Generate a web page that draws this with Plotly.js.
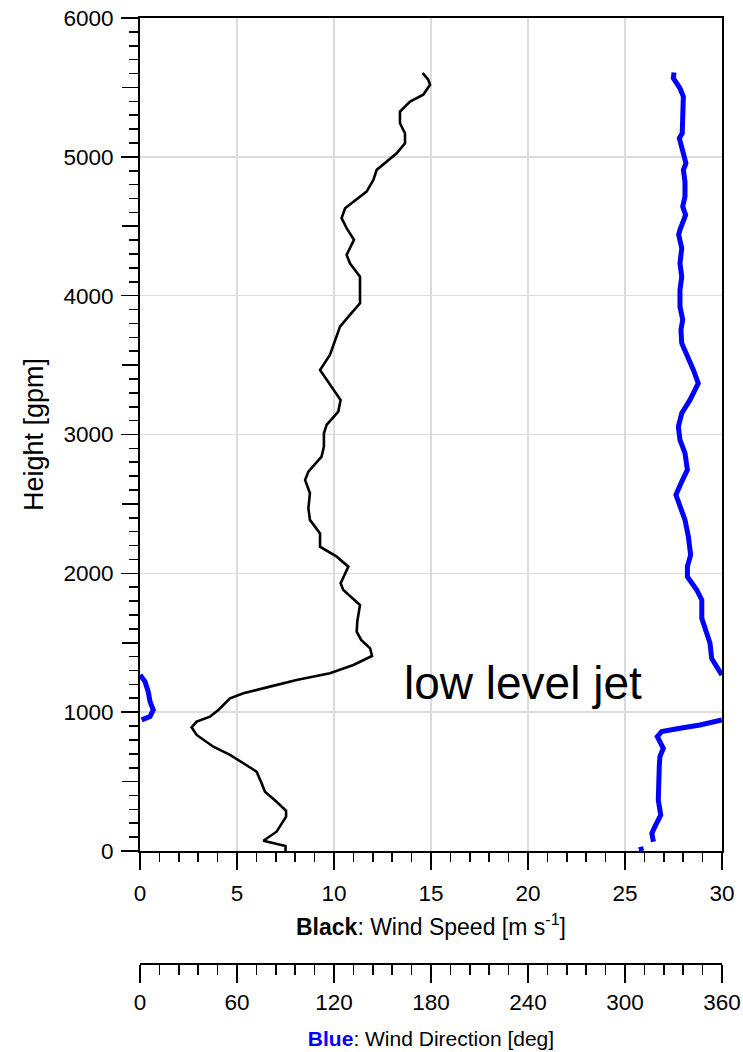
<!DOCTYPE html>
<html>
<head>
<meta charset="utf-8">
<script src="https://cdn.plot.ly/plotly-3.0.1.min.js"></script>
<style>html,body{margin:0;padding:0;background:#fff;}</style>
</head>
<body>
<div id="chart" style="width:743px;height:1052px;"></div>
<script>
// Wind speed profile (black), height [gpm] vs speed [m/s]
const speedHeight = [0,36,74,139,247,290,355,427,488,571,632,692,751,836,891,932,968,1016,1100,1136,1184,1232,1280,1340,1405,1460,1520,1580,1652,1772,1880,1928,2048,2120,2192,2288,2385,2469,2577,2673,2733,2841,2913,3009,3069,3165,3249,3357,3465,3573,3693,3777,3862,3945,4137,4233,4294,4402,4486,4558,4630,4750,4834,4906,5025,5097,5170,5242,5326,5398,5447,5519,5555,5603];
const windSpeed = [7.5,7.5,6.36,7.04,7.53,7.53,7.04,6.44,6.27,6.01,5.33,4.64,3.78,2.92,2.66,2.92,3.61,4.04,4.64,5.33,6.70,8.07,9.79,11.0,11.96,11.86,11.4,11.17,11.2,11.34,10.48,10.34,10.74,10.14,9.28,9.28,8.76,8.68,8.76,8.51,8.68,9.36,9.48,9.48,9.62,10.22,10.34,9.79,9.28,9.79,10.1,10.31,10.82,11.34,11.34,10.82,10.65,11.03,10.65,10.39,10.57,11.68,12.03,12.2,13.23,13.66,13.66,13.4,13.4,13.92,14.6,14.95,14.86,14.57];

// Wind direction profile (blue), degrees (wraps through 360/0); null = missing data
const dirHeight = [0,31,null,67,127,175,259,367,488,608,680,740,824,860,884,908,944,944,968,1016,1076,1148,1220,1268,1268,1327,1387,1496,1592,1676,1808,1880,1976,2048,2133,2264,2385,2481,2565,2661,2745,2865,2961,3057,3153,3249,3369,3465,3561,3658,3754,3826,3921,4042,4137,4233,4342,4438,4474,4582,4642,4714,4822,4906,4953,5025,5134,5170,5362,5434,5494,5566,5607];
const windDir = [310.3,309.7,null,317.6,316.6,318.5,322.1,320.6,320.6,321.2,321.6,323.7,320.0,322.7,334.0,346.4,359.9,1.0,6.2,8.2,6.2,5.1,3.1,0.1,359.9,356.7,353.6,352.6,350.1,347.5,347.5,344.4,338.6,338.6,340.6,339.2,337.1,334.0,331.5,335.1,338.6,337.1,334.0,333.0,335.1,340.2,345.3,342.3,338.6,335.1,334.6,335.7,334.0,334.0,335.1,334.0,335.1,333.2,334.0,337.5,335.7,337.1,337.1,336.1,337.7,336.1,333.6,335.4,335.4,336.1,334.0,329.9,330.3];

const heightTickVals = [0,1000,2000,3000,4000,5000,6000];
const heightTickText = ['0','1000','2000','3000','4000','5000','6000'];
const heightMidTicks = [500,1500,2500,3500,4500,5500];

// break the direction line where it wraps around 360/0
const dx = [], dy = [];
for (let i = 0; i < windDir.length; i++) {
  if (i > 0 && windDir[i] !== null && windDir[i-1] !== null && Math.abs(windDir[i] - windDir[i-1]) > 180) {
    dx.push(null); dy.push(null);
  }
  dx.push(windDir[i]); dy.push(dirHeight[i]);
}

const FONT = 'Liberation Sans, Arial, sans-serif';

const traces = [
  // carrier for the half-step tick axis (draws nothing)
  {x: [null], y: [null], xaxis: 'x', yaxis: 'y2', mode: 'lines', hoverinfo: 'skip', showlegend: false},
  {x: windSpeed, y: speedHeight, xaxis: 'x', yaxis: 'y', mode: 'lines',
   line: {color: '#000000', width: 2.6}, hoverinfo: 'skip'},
  {x: dx, y: dy, xaxis: 'x2', yaxis: 'y', mode: 'lines', connectgaps: false,
   line: {color: '#0000ff', width: 5}, hoverinfo: 'skip'}
];

const yDomain = [(964 - 851) / (964 - 18), 1];

const layout = {
  width: 743, height: 1052,
  margin: {l: 140, r: 21, t: 18, b: 88},
  paper_bgcolor: '#ffffff', plot_bgcolor: '#ffffff',
  showlegend: false,
  font: {family: FONT, color: '#000', size: 22},
  xaxis: {
    anchor: 'y', range: [0, 30], tickmode: 'linear', tick0: 0, dtick: 5,
    ticks: 'outside', ticklen: 17, tickwidth: 1.6, tickcolor: '#000',
    showline: true, linecolor: '#000', linewidth: 2, mirror: true,
    showgrid: true, gridcolor: '#dcdcdc', gridwidth: 1.5, zeroline: false,
    tickfont: {family: FONT, size: 22.5, color: '#000'}, ticklabelstandoff: 4,
    minor: {tickmode: 'linear', tick0: 0, dtick: 1, ticks: 'outside', ticklen: 9, tickwidth: 1.6, tickcolor: '#000', showgrid: false},
    title: {text: '<b>Black</b>: Wind Speed [m s<sup>-1</sup>]', font: {family: FONT, size: 23, color: '#000'}, standoff: 14},
    automargin: false, fixedrange: true
  },
  xaxis2: {
    overlaying: 'x', anchor: 'free', position: 0, side: 'bottom',
    range: [0, 360], tickmode: 'linear', tick0: 0, dtick: 60,
    ticks: 'outside', ticklen: 18, tickwidth: 1.6, tickcolor: '#000',
    showline: true, linecolor: '#000', linewidth: 2,
    showgrid: false, zeroline: false,
    tickfont: {family: FONT, size: 22.5, color: '#000'},
    minor: {tickmode: 'linear', tick0: 0, dtick: 12, ticks: 'outside', ticklen: 10, tickwidth: 1.6, tickcolor: '#000', showgrid: false},
    title: {text: '<b><span style="color:#0000ff">Blue</span></b>: Wind Direction [deg]', font: {family: FONT, size: 21, color: '#000'}, standoff: 16},
    automargin: false, fixedrange: true
  },
  yaxis: {
    domain: yDomain, anchor: 'x', range: [0, 6000],
    tickmode: 'array', tickvals: heightTickVals, ticktext: heightTickText,
    ticks: 'outside', ticklen: 17, tickwidth: 1.6, tickcolor: '#000',
    showline: true, linecolor: '#000', linewidth: 2, mirror: true,
    showgrid: true, gridcolor: '#dcdcdc', gridwidth: 1.5, zeroline: false,
    tickfont: {family: FONT, size: 22.5, color: '#000'}, ticklabelstandoff: 3,
    minor: {tickmode: 'linear', tick0: 0, dtick: 100, ticks: 'outside', ticklen: 9, tickwidth: 1.6, tickcolor: '#000', showgrid: false},
    title: {text: 'Height [gpm]', font: {family: FONT, size: 27, color: '#000'}, standoff: 12},
    automargin: false, fixedrange: true
  },
  yaxis2: {
    overlaying: 'y', anchor: 'x', side: 'left', range: [0, 6000],
    tickmode: 'array', tickvals: heightMidTicks,
    ticks: 'outside', ticklen: 17, tickwidth: 1.6, tickcolor: '#000',
    showgrid: false, zeroline: false, showticklabels: false, showline: false, fixedrange: true
  },
  annotations: [
    {text: 'low level jet', xref: 'x', yref: 'y', x: 13.5, y: 1210, xanchor: 'left', yanchor: 'middle',
     showarrow: false, font: {family: FONT, size: 46, color: '#000'}}
  ]
};

Plotly.newPlot('chart', traces, layout, {staticPlot: true, displayModeBar: false});
</script>
</body>
</html>
